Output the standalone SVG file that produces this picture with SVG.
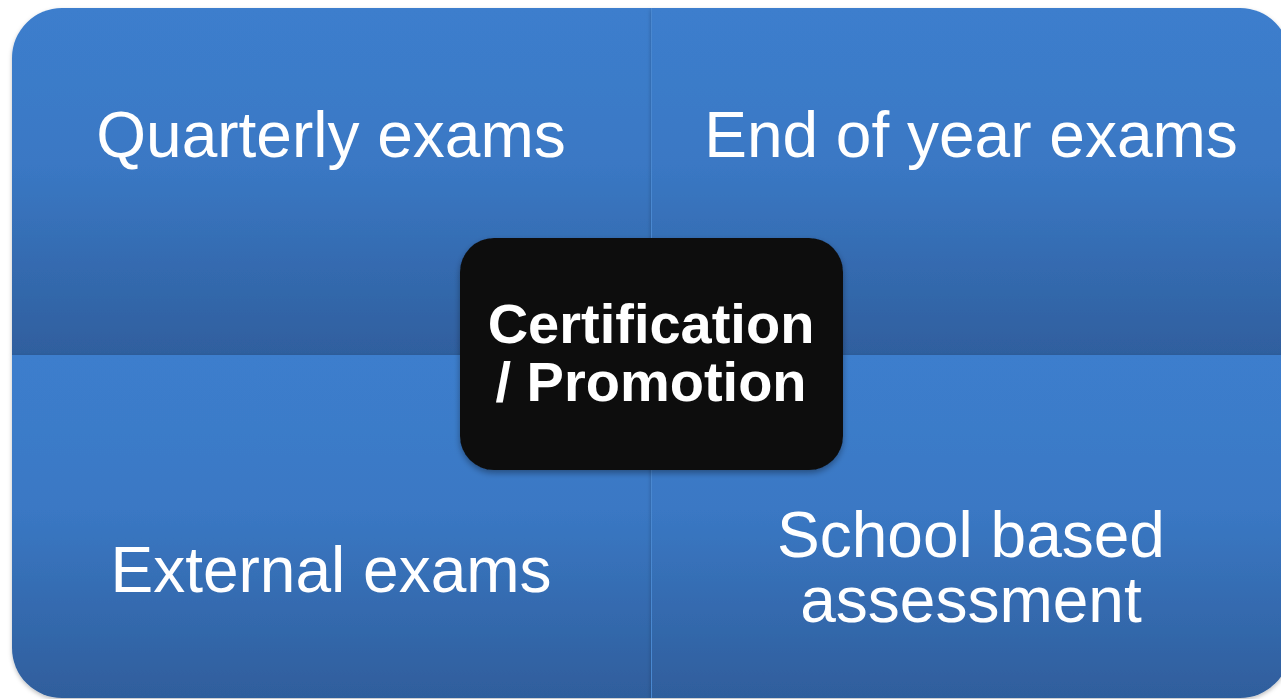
<svg xmlns="http://www.w3.org/2000/svg" width="1281" height="699" viewBox="0 0 1281 699">
  <defs>
    <linearGradient id="gTop" x1="0" y1="8" x2="0" y2="355" gradientUnits="userSpaceOnUse">
      <stop offset="0" stop-color="#3c7ecd"/>
      <stop offset="0.45" stop-color="#3a78c4"/>
      <stop offset="1" stop-color="#2f5f9e"/>
    </linearGradient>
    <linearGradient id="gBot" x1="0" y1="355" x2="0" y2="698" gradientUnits="userSpaceOnUse">
      <stop offset="0" stop-color="#3c7ecd"/>
      <stop offset="0.45" stop-color="#3a78c4"/>
      <stop offset="1" stop-color="#2f5e9c"/>
    </linearGradient>
    <filter id="sh" x="-10%" y="-10%" width="120%" height="125%">
      <feDropShadow dx="0" dy="3" stdDeviation="3" flood-color="#000" flood-opacity="0.35"/>
    </filter>
    <filter id="shq" x="-5%" y="-5%" width="110%" height="110%">
      <feDropShadow dx="0" dy="2" stdDeviation="2" flood-color="#000" flood-opacity="0.25"/>
    </filter>
  </defs>
  <style>
    .lbl { font-family: "Liberation Sans", Arial, sans-serif; font-size: 64px; fill: #ffffff; text-anchor: middle; }
    .ctr { font-family: "Liberation Sans", Arial, sans-serif; font-size: 56px; font-weight: bold; fill: #ffffff; text-anchor: middle; }
    .div { stroke: #4a88d0; stroke-width: 1; }
  </style>
  <rect width="1281" height="699" fill="#ffffff"/>

  <g id="quadrant-top-left" filter="url(#shq)">
    <path d="M12,355 L12,58 A50,50 0 0 1 62,8 L651,8 L651,355 Z" fill="url(#gTop)"/>
    <text class="lbl" x="331" y="157">Quarterly exams</text>
  </g>
  <g id="quadrant-top-right" filter="url(#shq)">
    <path d="M651,8 L1240,8 A50,50 0 0 1 1290,58 L1290,355 L651,355 Z" fill="url(#gTop)"/>
    <text class="lbl" x="971" y="157">End of year exams</text>
  </g>
  <g id="quadrant-bottom-left" filter="url(#shq)">
    <path d="M12,355 L651,355 L651,698 L62,698 A50,50 0 0 1 12,648 Z" fill="url(#gBot)"/>
    <text class="lbl" x="331" y="592">External exams</text>
  </g>
  <g id="quadrant-bottom-right" filter="url(#shq)">
    <path d="M651,355 L1290,355 L1290,648 A50,50 0 0 1 1240,698 L651,698 Z" fill="url(#gBot)"/>
    <text class="lbl" x="971" y="557">School based</text>
    <text class="lbl" x="971" y="622">assessment</text>
  </g>
  <line class="div" x1="651.5" y1="8" x2="651.5" y2="698"/>

  <g id="center" filter="url(#sh)">
    <rect x="460" y="238" width="383" height="232" rx="34" ry="34" fill="#0d0d0d"/>
    <text class="ctr" x="651" y="343">Certification</text>
    <text class="ctr" x="651" y="401">/ Promotion</text>
  </g>
</svg>
